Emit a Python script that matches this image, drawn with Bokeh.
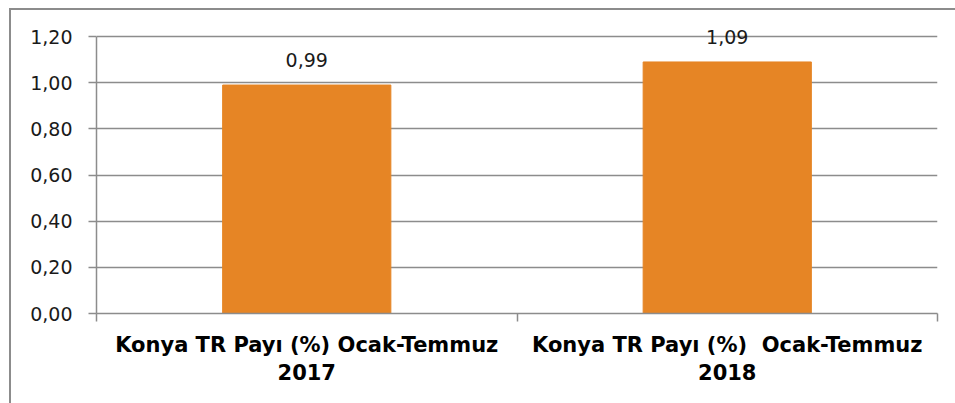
from bokeh.plotting import figure
from bokeh.models import FixedTicker, LinearAxis, Range1d, Grid, ColumnDataSource
from bokeh.core.properties import value
from bokeh.embed import file_html
from bokeh.resources import INLINE

categories = ["Konya TR Payı (%) Ocak-Temmuz\n2017", "Konya TR Payı (%)\u00a0 Ocak-Temmuz\n2018"]
values = [0.99, 1.09]
value_labels = ["0,99", "1,09"]
y_ticks = [0.0, 0.2, 0.4, 0.6, 0.8, 1.0, 1.2]
y_tick_labels = ["0,00", "0,20", "0,40", "0,60", "0,80", "1,00", "1,20"]

FONT = "DejaVu Sans"
GRAY = "#8c8c8c"

x_pos = [i + 0.5 for i in range(len(categories))]
boundaries = [float(i) for i in range(len(categories) + 1)]
y_max = y_ticks[-1]

p = figure(width=946, height=395, x_range=Range1d(0, len(categories)), y_range=Range1d(0, 1.3),
           output_backend="svg", toolbar_location=None, x_axis_type=None, y_axis_type=None,
           min_border_left=85, min_border_right=20, min_border_top=3, min_border_bottom=92)
p.outline_line_color = None
p.background_fill_color = "white"
p.border_fill_color = "white"
p.margin = (8, 0, 0, 9)
p.styles = {"border-left": "2px solid #8c8c8c", "border-top": "2px solid #8c8c8c",
            "box-sizing": "border-box"}

yticker = FixedTicker(ticks=y_ticks)
yaxis = LinearAxis(ticker=yticker, bounds=(0, y_max))
yaxis.major_label_overrides = {t: l for t, l in zip(y_ticks, y_tick_labels)}
yaxis.axis_line_color = GRAY
yaxis.axis_line_width = 1.5
yaxis.major_tick_line_color = GRAY
yaxis.major_tick_line_width = 1.5
yaxis.major_tick_out = 8
yaxis.major_tick_in = 0
yaxis.minor_tick_line_color = None
yaxis.major_label_text_font = FONT
yaxis.major_label_text_font_size = "19px"
yaxis.major_label_text_color = "#1a1a1a"
yaxis.major_label_standoff = 16
p.add_layout(yaxis, "left")
p.add_layout(Grid(dimension=1, ticker=yticker, grid_line_color=GRAY, grid_line_width=1.5))

xaxis1 = LinearAxis(ticker=FixedTicker(ticks=boundaries))
xaxis1.major_label_overrides = {b: "" for b in boundaries}
xaxis1.axis_line_color = GRAY
xaxis1.axis_line_width = 1.5
xaxis1.major_tick_line_color = GRAY
xaxis1.major_tick_line_width = 1.5
xaxis1.major_tick_out = 8
xaxis1.major_tick_in = 0
xaxis1.minor_tick_line_color = None
xaxis1.major_label_text_font_size = "1px"
xaxis1.major_label_standoff = 0
p.add_layout(xaxis1, "below")

xaxis2 = LinearAxis(ticker=FixedTicker(ticks=x_pos))
xaxis2.major_label_overrides = {x: c for x, c in zip(x_pos, categories)}
xaxis2.axis_line_color = None
xaxis2.major_tick_line_color = None
xaxis2.minor_tick_line_color = None
xaxis2.major_label_text_font = FONT
xaxis2.major_label_text_font_style = "bold"
xaxis2.major_label_text_font_size = "21px"
xaxis2.major_label_text_color = "#000000"
xaxis2.major_label_standoff = 5
p.add_layout(xaxis2, "below")

src = ColumnDataSource(dict(x=x_pos, top=values, label=value_labels))
p.vbar(x="x", top="top", width=0.4, bottom=0, color="#E68525", source=src)
p.text(x="x", y="top", text="label", source=src, y_offset=-25, text_align="center",
       text_baseline="middle", text_font=value(FONT), text_font_size="19px",
       text_color="#1a1a1a")

open("out.html", "w").write(file_html(p, INLINE))
